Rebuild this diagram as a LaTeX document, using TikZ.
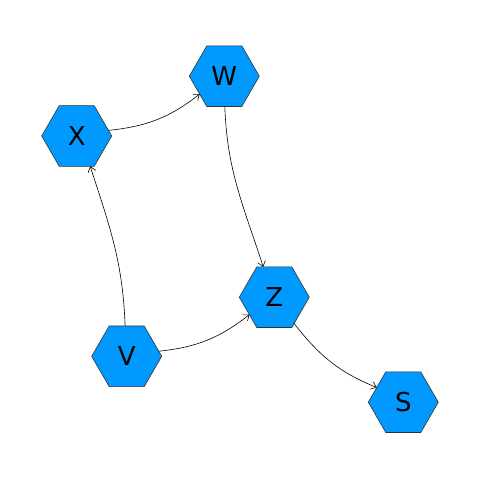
\documentclass[tikz,border=0pt]{standalone}
\usepackage{fontspec}
\setmainfont{DejaVu Sans}
\usetikzlibrary{shapes.geometric,arrows.meta}
\definecolor{hexblue}{HTML}{0099FF}
\tikzset{
  hexnode/.style={regular polygon, regular polygon sides=6, minimum size=70pt,
    inner sep=0pt, outer sep=0pt, fill=hexblue, draw=black!80, line width=0.6pt,
    font=\fontsize{26}{30}\selectfont},
  edge/.style={draw=black, line width=0.6pt, -{Straight Barb[length=5pt,width=8pt]}}
}
\begin{document}
\begin{tikzpicture}[x=1pt,y=1pt]
\useasboundingbox (0,0) rectangle (480,479);
\node[hexnode] (X) at (76.7,343) {X};
\node[hexnode] (W) at (224.3,402.8) {W};
\node[hexnode] (Z) at (274.3,181.8) {Z};
\node[hexnode] (V) at (126.7,122.7) {V};
\node[hexnode] (S) at (403.3,76.8) {S};
\draw[edge] (X.10) to[out=6,in=218] (W.216);
\draw[edge] (W.-89) to[out=-88,in=108] (Z.110);
\draw[edge] (V.93) to[out=92,in=-72] (X.-66);
\draw[edge] (V.9) to[out=6,in=218] (Z.215);
\draw[edge] (Z.-53) to[out=-52,in=158] (S.151);
\end{tikzpicture}
\end{document}
